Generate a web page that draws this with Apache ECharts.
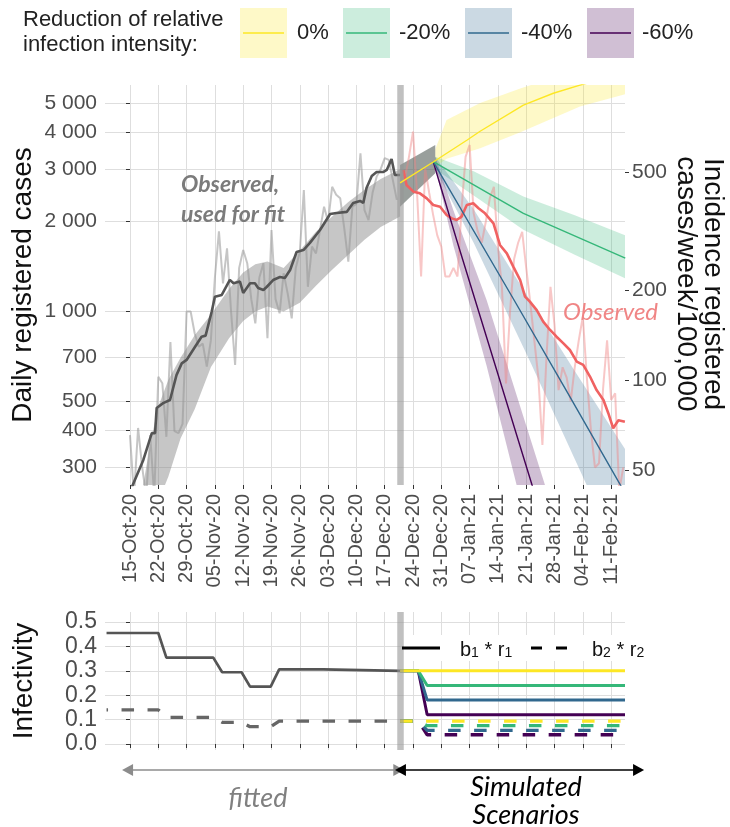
<!DOCTYPE html>
<html><head><meta charset="utf-8">
<script src="https://cdn.jsdelivr.net/npm/echarts@6/dist/echarts.min.js"></script>
<style>html,body{margin:0;padding:0;background:#fff}#c{width:730px;height:827px}</style>
</head><body><div id="c"></div>
<script>
// ---------- axes / ticks (x = days since 15-Oct-2020) ----------
const xTickLabels = ['15-Oct-20','22-Oct-20','29-Oct-20','05-Nov-20','12-Nov-20','19-Nov-20','26-Nov-20','03-Dec-20','10-Dec-20','17-Dec-20','24-Dec-20','31-Dec-20','07-Jan-21','14-Jan-21','21-Jan-21','28-Jan-21','04-Feb-21','11-Feb-21'];
const xTickDays = [0,7,14,21,28,35,42,49,56,63,70,77,84,91,98,105,112,119];
const yCasesTicks = [300,400,500,700,1000,2000,3000,4000,5000];
const yCasesTickLabels = ['300','400','500','700','1 000','2 000','3 000','4 000','5 000'];
const yIncTicks = [50,100,200,500];
const yIncTickLabels = ['50','100','200','500'];
const infTicks = [0,0.1,0.2,0.3,0.4,0.5];
const infTickLabels = ['0.0','0.1','0.2','0.3','0.4','0.5'];
const casesPerIncidence = 5.874;   // left/right axis ratio
const fitEndDay = 66.8;

// ---------- observed, used for fit ----------
const fitRawStart = 0;
const fitRaw = [385,240,407,302,240,385,240,604,575,380,790,397,391,420,1000,1000,845,762,780,653,800,1300,1855,1243,1629,1000,662,1400,1607,1452,1100,912,1300,1452,813,1874,1100,986,1343,1150,948,1400,1583,2555,1210,1650,1566,1874,2245,2000,2618,2462,2395,1900,1469,2245,2300,3390,2188,2026,2500,2832,3000,3265,3222,2763,2366];
const fitSmoothDays = [-0.5,3.3,5.4,6.2,6.6,8.2,9.9,11.5,12.8,14,16.1,17.7,18.7,20.2,21,22.7,24.7,25.6,27.2,28,29.7,30.9,31.7,33,33.8,35.4,37.1,38.3,39.6,41.2,42.9,44.5,47,49.5,51.1,53.6,55.2,56.9,57.7,58.5,59.8,61,62.7,63.5,64.7,65.5,66.8];
const fitSmooth = [240,318,391,391,475,493,505,612,670,688,762,823,830,998,1121,1136,1276,1243,1260,1154,1243,1243,1199,1180,1208,1275,1305,1295,1377,1583,1607,1698,1876,2123,2140,2157,2311,2347,2311,2594,2845,2936,2936,2982,3245,2869,2869];
const fitBandDays = [3,5,7,9.5,12.5,16,20,24.5,28,31,34,38,42,46,50,54,58,62,66.8];
const fitBandUpper = [250,360,480,590,700,833,975,1190,1350,1440,1470,1400,1600,1850,2080,2330,2560,2780,3000];
const fitBandLower = [140,180,230,280,375,470,650,813,930,1000,1040,1000,1070,1220,1380,1550,1740,1920,2080];
const jointBandDays = [66.8,75.5];
const jointBandUpper = [3100,3615];
const jointBandLower = [2245,2906];

// ---------- observed after fit ----------
const obsRawStart = 67;
const obsRaw = [2700,2793,3300,4008,2500,1310,3020,2500,2100,1800,1650,1310,1310,1400,1310,2200,3300,3617,2133,1855,1700,2000,2400,2617,1650,1200,574,1000,1500,1700,1848,1400,1072,800,600,357,700,1210,900,545,650,600,500,650,801,961,600,400,300,310,550,801,505,532,250,300];
const obsSmoothDays = [67.6,68.4,70.1,71.7,73.4,75,76.7,78.3,79.6,80.8,82,83.3,84.9,86.2,87.8,89.9,91.5,93.2,94.8,96.5,97.7,98.9,100.6,102.2,103.9,105.5,107.2,108.8,110.5,112.1,113.8,115.4,117.1,118.3,119.5,120.8,122.4];
const obsSmooth = [2981,2655,2522,2489,2395,2275,2244,2106,2052,2027,2080,2275,2305,2218,2134,1975,1671,1566,1414,1274,1121,1079,1011,925,867,823,782,743,679,662,604,545,505,456,406,432,427];

// ---------- scenarios (reduction 0%, -20%, -40%, -60%) ----------
const scenNames = ['0%','-20%','-40%','-60%'];
const scenColors = ['#FDE725','#35B779','#31688E','#440154'];
const scenBandColors = ['rgba(253,231,37,0.25)','rgba(53,183,121,0.25)','rgba(49,104,142,0.25)','rgba(68,1,84,0.25)'];
const s0Days = [66.8,75,83.4,86.6,97.3,104.7,111.3,122.5];
const s0Vals = [2697,3171,3758,4020,4920,5390,5740,6300];
const s20Days = [75,97.3,122.5];
const s20Vals = [3178,2134,1510];
const s40Days = [75,95.2,108,124];
const s40Vals = [3178,1080,541,226];
const s60Days = [75,80.8,99.4,101];
const s60Vals = [3178,1737,263,225];
const s0BandDays = [75.5,78.3,86.6,96.7,111.3,123.2];
const s0BandUpper = [3500,4385,5000,5600,6500,7200];
const s0BandLower = [3050,3250,3524,4000,4864,5385];
const s20BandDays = [75.5,85,97.3,110,122.5];
const s20BandUpper = [3300,2950,2430,2100,1800];
const s20BandLower = [3000,2450,1880,1550,1290];
const s40BandDays = [75.5,85,98.9,110,122.5];
const s40BandUpper = [3300,2200,1093,632,345];
const s40BandLower = [3000,1700,682,320,137];
const s60BandDays = [75.5,80,88.2,96,104];
const s60BandUpper = [3300,2180,1093,505,229];
const s60BandLower = [3050,1660,658,250,93];

// ---------- infectivity ----------
const b1FitDays = [-5.8,7,9,20.6,22.8,27.6,29.7,34.8,36.9,47.8,48.2,66.8];
const b1Fit = [0.455,0.455,0.354,0.354,0.294,0.294,0.235,0.235,0.306,0.306,0.300,0.300];
const b2FitDays = [-5.8,7,9,20.6,22.8,27.6,29.7,34.8,36.9,66.8];
const b2Fit = [0.140,0.140,0.109,0.109,0.089,0.089,0.071,0.071,0.094,0.094];
const scenStepDays = [66.8,71.3,73.5,122.43];
const b1S0 = [0.300,0.300,0.300,0.300];
const b1S20 = [0.300,0.300,0.240,0.240];
const b1S40 = [0.300,0.300,0.180,0.180];
const b1S60 = [0.300,0.300,0.120,0.120];
const b2S0 = [0.094,0.094,0.094,0.094];
const b2S20 = [0.094,0.094,0.075,0.075];
const b2S40 = [0.094,0.094,0.056,0.056];
const b2S60 = [0.094,0.094,0.038,0.038];

// ---------- build ----------
const L = Math.log10;
const X_MIN = -6.18, X_MAX = 122.43, X3_MAX = 126.15;
const Y_MIN = 262, Y_MAX = 5745;
const FONT = 'Liberation Sans, Arial, sans-serif';
const pairsLog = (d, v) => d.map((x, i) => [x, L(v[i])]);
const pairs = (d, v) => d.map((x, i) => [x, v[i]]);
const nearest = (arr, v) => { let b = 0; arr.forEach((a, i) => { if (Math.abs(a - v) < Math.abs(arr[b] - v)) b = i; }); return b; };

function band(days, up, lo, fill, z) {
  return { type: 'custom', xAxisIndex: 0, yAxisIndex: 0, clip: true, silent: true, z: z || 1,
    data: [[50, 3]],
    renderItem: (p, api) => {
      const pts = [];
      for (let i = 0; i < days.length; i++) pts.push(api.coord([days[i], L(up[i])]));
      for (let i = days.length - 1; i >= 0; i--) pts.push(api.coord([days[i], L(lo[i])]));
      return { type: 'polygon', shape: { points: pts }, style: { fill: fill } };
    } };
}
function line(data, color, width, z, extra) {
  return Object.assign({ type: 'line', xAxisIndex: 0, yAxisIndex: 0, data: data, symbol: 'none', showSymbol: false,
    silent: true, z: z, lineStyle: { color: color, width: width }, emphasis: { disabled: true } }, extra || {});
}
function bline(d, v, color, width, dashed, z, offset) {
  return { type: 'line', xAxisIndex: 1, yAxisIndex: 2, data: pairs(d, v), symbol: 'none', silent: true, z: z,
    emphasis: { disabled: true },
    lineStyle: { color: color, width: width, type: dashed ? [12.5, 13.5] : 'solid', dashOffset: offset || 0, cap: 'butt' } };
}

const series = [
  band(fitBandDays, fitBandUpper, fitBandLower, 'rgba(128,128,128,0.45)'),
  band(s0BandDays, s0BandUpper, s0BandLower, scenBandColors[0]),
  band(s20BandDays, s20BandUpper, s20BandLower, scenBandColors[1]),
  band(s40BandDays, s40BandUpper, s40BandLower, scenBandColors[2]),
  band(s60BandDays, s60BandUpper, s60BandLower, scenBandColors[3]),
  band(jointBandDays, jointBandUpper, jointBandLower, 'rgba(90,100,95,0.62)', 2),
  line(fitRaw.map((v, i) => [fitRawStart + i, L(v)]), 'rgba(150,150,150,0.55)', 2, 3),
  line(obsRaw.map((v, i) => [obsRawStart + i, L(v)]), 'rgba(240,130,130,0.45)', 2, 3),
  line(pairsLog(fitSmoothDays, fitSmooth), '#555555', 2.6, 4),
  line(pairsLog(obsSmoothDays, obsSmooth), '#F06262', 2.6, 4),
  line(pairsLog(s60Days, s60Vals), scenColors[3], 1.4, 5),
  line(pairsLog(s40Days, s40Vals), scenColors[2], 1.4, 5),
  line(pairsLog(s20Days, s20Vals), scenColors[1], 1.4, 5),
  line(pairsLog(s0Days, s0Vals), scenColors[0], 1.4, 5, {
    markLine: { silent: true, symbol: ['none', 'none'], label: { show: false },
      lineStyle: { color: 'rgba(150,150,150,0.6)', width: 6.5, type: 'solid' }, data: [{ xAxis: fitEndDay }] } }),
  // bottom panel
  bline(b2FitDays, b2Fit, '#666666', 3.3, true, 3, 11),
  bline(b1FitDays, b1Fit, '#555555', 2.7, false, 3),
  bline(scenStepDays, b2S60, scenColors[3], 3.3, true, 3),
  bline(scenStepDays, b2S40, scenColors[2], 3.3, true, 3),
  bline(scenStepDays, b2S20, scenColors[1], 3.3, true, 3),
  bline(scenStepDays, b2S0, scenColors[0], 3.3, true, 3),
  bline(scenStepDays, b1S60, scenColors[3], 3, false, 3),
  bline(scenStepDays, b1S40, scenColors[2], 3, false, 3),
  bline(scenStepDays, b1S20, scenColors[1], 3, false, 3),
  Object.assign(bline(scenStepDays, b1S0, scenColors[0], 3, false, 3), {
    markLine: { silent: true, symbol: ['none', 'none'], label: { show: false }, z: 6,
      lineStyle: { color: 'rgba(150,150,150,0.6)', width: 6.5, type: 'solid' }, data: [{ xAxis: fitEndDay }] } }),
  // arrows lane
  { type: 'line', xAxisIndex: 2, yAxisIndex: 3, data: [[0, -5]], symbol: 'none', silent: true, lineStyle: { opacity: 0 },
    markLine: { silent: true, symbol: ['triangle', 'triangle'], symbolSize: [12, 11], label: { show: false },
      data: [
        [{ coord: [-0.6, 0.5], lineStyle: { color: '#8c8c8c', width: 1.6, type: 'solid' }, itemStyle: { color: '#8c8c8c' } },
         { coord: [fitEndDay - 0.3, 0.5] }],
        [{ coord: [fitEndDay + 0.1, 0.5], lineStyle: { color: '#000', width: 1.6, type: 'solid' }, itemStyle: { color: '#000' } },
         { coord: [125.8, 0.5] }]
      ] } }
];

const xAxisBase = (gi, labels) => ({
  gridIndex: gi, type: 'value', min: X_MIN, max: X_MAX,
  axisLine: { show: false },
  axisTick: { show: true, customValues: xTickDays, length: 4, lineStyle: { color: '#333', width: 1 } },
  axisLabel: { show: labels, customValues: xTickDays, rotate: 90, margin: 9, fontSize: 20, color: '#4d4d4d', fontFamily: FONT,
    formatter: v => xTickLabels[nearest(xTickDays, v)] },
  splitLine: { show: true, lineStyle: { color: '#dedede', width: 1 } }
});

const legendGraphics = [];
const boxX = [240, 343, 465, 587];
const labX = [297, 399, 521, 642];
scenNames.forEach((n, i) => {
  legendGraphics.push({ type: 'rect', shape: { x: boxX[i], y: 8, width: 47, height: 50 }, style: { fill: scenBandColors[i] }, silent: true });
  legendGraphics.push({ type: 'line', shape: { x1: boxX[i] + 3, y1: 33, x2: boxX[i] + 44, y2: 33 }, style: { stroke: scenColors[i], lineWidth: 1.5 }, silent: true });
  legendGraphics.push({ type: 'text', x: labX[i], y: 33, silent: true, style: { text: n, font: '22px ' + FONT, fill: '#222', align: 'left', verticalAlign: 'middle', textAlign: 'left', textVerticalAlign: 'middle' } });
});

function txt(x, y, text, font, fill, align, rot) {
  return { type: 'text', x: x, y: y, rotation: rot || 0, silent: true, z: 20,
    style: { text: text, font: font, fill: fill, align: align || 'center', verticalAlign: 'middle', textAlign: align || 'center', textVerticalAlign: 'middle', lineHeight: 27 } };
}
const subRich = {
  m: { fontSize: 20, lineHeight: 24, verticalAlign: 'bottom', fontFamily: FONT, fill: '#111', color: '#111' },
  s: { fontSize: 14, lineHeight: 12, verticalAlign: 'bottom', fontFamily: FONT, fill: '#111', color: '#111' }
};

const graphics = [
  txt(23, 20, 'Reduction of relative', '22px ' + FONT, '#222', 'left'),
  txt(23, 45, 'infection intensity:', '22px ' + FONT, '#222', 'left'),
  ...legendGraphics,
  txt(23, 285, 'Daily registered cases', '28px ' + FONT, '#111', 'center', Math.PI / 2),
  txt(699.5, 284, 'Incidence registered\ncases/week/100,000', '28px ' + FONT, '#111', 'center', -Math.PI / 2),
  txt(24, 681, 'Infectivity', '28px ' + FONT, '#111', 'center', Math.PI / 2),
  txt(181, 185, 'Observed,', 'italic bold 23px Lato, sans-serif', '#7b7b7b', 'left'),
  txt(181, 215, 'used for fit', 'italic bold 23px Lato, sans-serif', '#7b7b7b', 'left'),
  txt(563, 312, 'Observed', 'italic 24px Lato, sans-serif', '#F08585', 'left'),
  txt(258, 798, 'fitted', 'italic 27px Lato, sans-serif', '#808080', 'center'),
  txt(526, 787, 'Simulated', 'italic 27px Lato, sans-serif', '#000', 'center'),
  txt(526, 815, 'Scenarios', 'italic 27px Lato, sans-serif', '#000', 'center'),
  // infectivity legend
  { type: 'rect', shape: { x: 404, y: 635, width: 246, height: 26 }, style: { fill: '#fff' }, silent: true, z: 10 },
  { type: 'line', shape: { x1: 402, y1: 648, x2: 440, y2: 648 }, style: { stroke: '#000', lineWidth: 3 }, silent: true, z: 11 },
  { type: 'line', shape: { x1: 531, y1: 648, x2: 542, y2: 648 }, style: { stroke: '#000', lineWidth: 3 }, silent: true, z: 11 },
  { type: 'line', shape: { x1: 556, y1: 648, x2: 567, y2: 648 }, style: { stroke: '#000', lineWidth: 3 }, silent: true, z: 11 },
  { type: 'text', x: 460, y: 648, silent: true, z: 11, style: { text: '{m|b}{s|1}{m| * r}{s|1}', rich: subRich, align: 'left', verticalAlign: 'middle', textAlign: 'left', textVerticalAlign: 'middle' } },
  { type: 'text', x: 592, y: 648, silent: true, z: 11, style: { text: '{m|b}{s|2}{m| * r}{s|2}', rich: subRich, align: 'left', verticalAlign: 'middle', textAlign: 'left', textVerticalAlign: 'middle' } }
];

const option = {
  animation: false,
  backgroundColor: '#ffffff',
  textStyle: { fontFamily: FONT },
  grid: [
    { left: 105, top: 85, width: 520, height: 400 },
    { left: 105, top: 612, width: 520, height: 138 },
    { left: 105, top: 755, width: 535, height: 30 }
  ],
  xAxis: [
    xAxisBase(0, true),
    xAxisBase(1, false),
    { gridIndex: 2, type: 'value', min: X_MIN, max: X3_MAX, show: false }
  ],
  yAxis: [
    { gridIndex: 0, type: 'value', min: L(Y_MIN), max: L(Y_MAX), axisLine: { show: false },
      axisTick: { show: true, customValues: yCasesTicks.map(L), length: 4, lineStyle: { color: '#333' } },
      axisLabel: { customValues: yCasesTicks.map(L), fontSize: 21, color: '#4d4d4d', margin: 8, fontFamily: FONT,
        formatter: v => yCasesTickLabels[nearest(yCasesTicks.map(L), v)] },
      splitLine: { show: true, lineStyle: { color: '#dedede', width: 1 } } },
    { gridIndex: 0, type: 'value', position: 'right', min: L(Y_MIN / casesPerIncidence), max: L(Y_MAX / casesPerIncidence),
      axisLine: { show: false },
      axisTick: { show: true, customValues: yIncTicks.map(L), length: 4, lineStyle: { color: '#333' } },
      axisLabel: { customValues: yIncTicks.map(L), fontSize: 21, color: '#4d4d4d', margin: 7, fontFamily: FONT,
        formatter: v => yIncTickLabels[nearest(yIncTicks.map(L), v)] },
      splitLine: { show: false } },
    { gridIndex: 1, type: 'value', min: -0.0246, max: 0.541, axisLine: { show: false },
      axisTick: { show: true, customValues: infTicks, length: 4, lineStyle: { color: '#333' } },
      axisLabel: { customValues: infTicks, fontSize: 23, color: '#4d4d4d', margin: 8, fontFamily: FONT,
        formatter: v => infTickLabels[nearest(infTicks, v)] },
      splitLine: { show: true, lineStyle: { color: '#dedede', width: 1 } } },
    { gridIndex: 2, type: 'value', min: 0, max: 1, show: false }
  ],
  series: series,
  graphic: graphics
};

const chart = echarts.init(document.getElementById('c'), null, { renderer: 'canvas' });
chart.setOption(option);
</script></body></html>
